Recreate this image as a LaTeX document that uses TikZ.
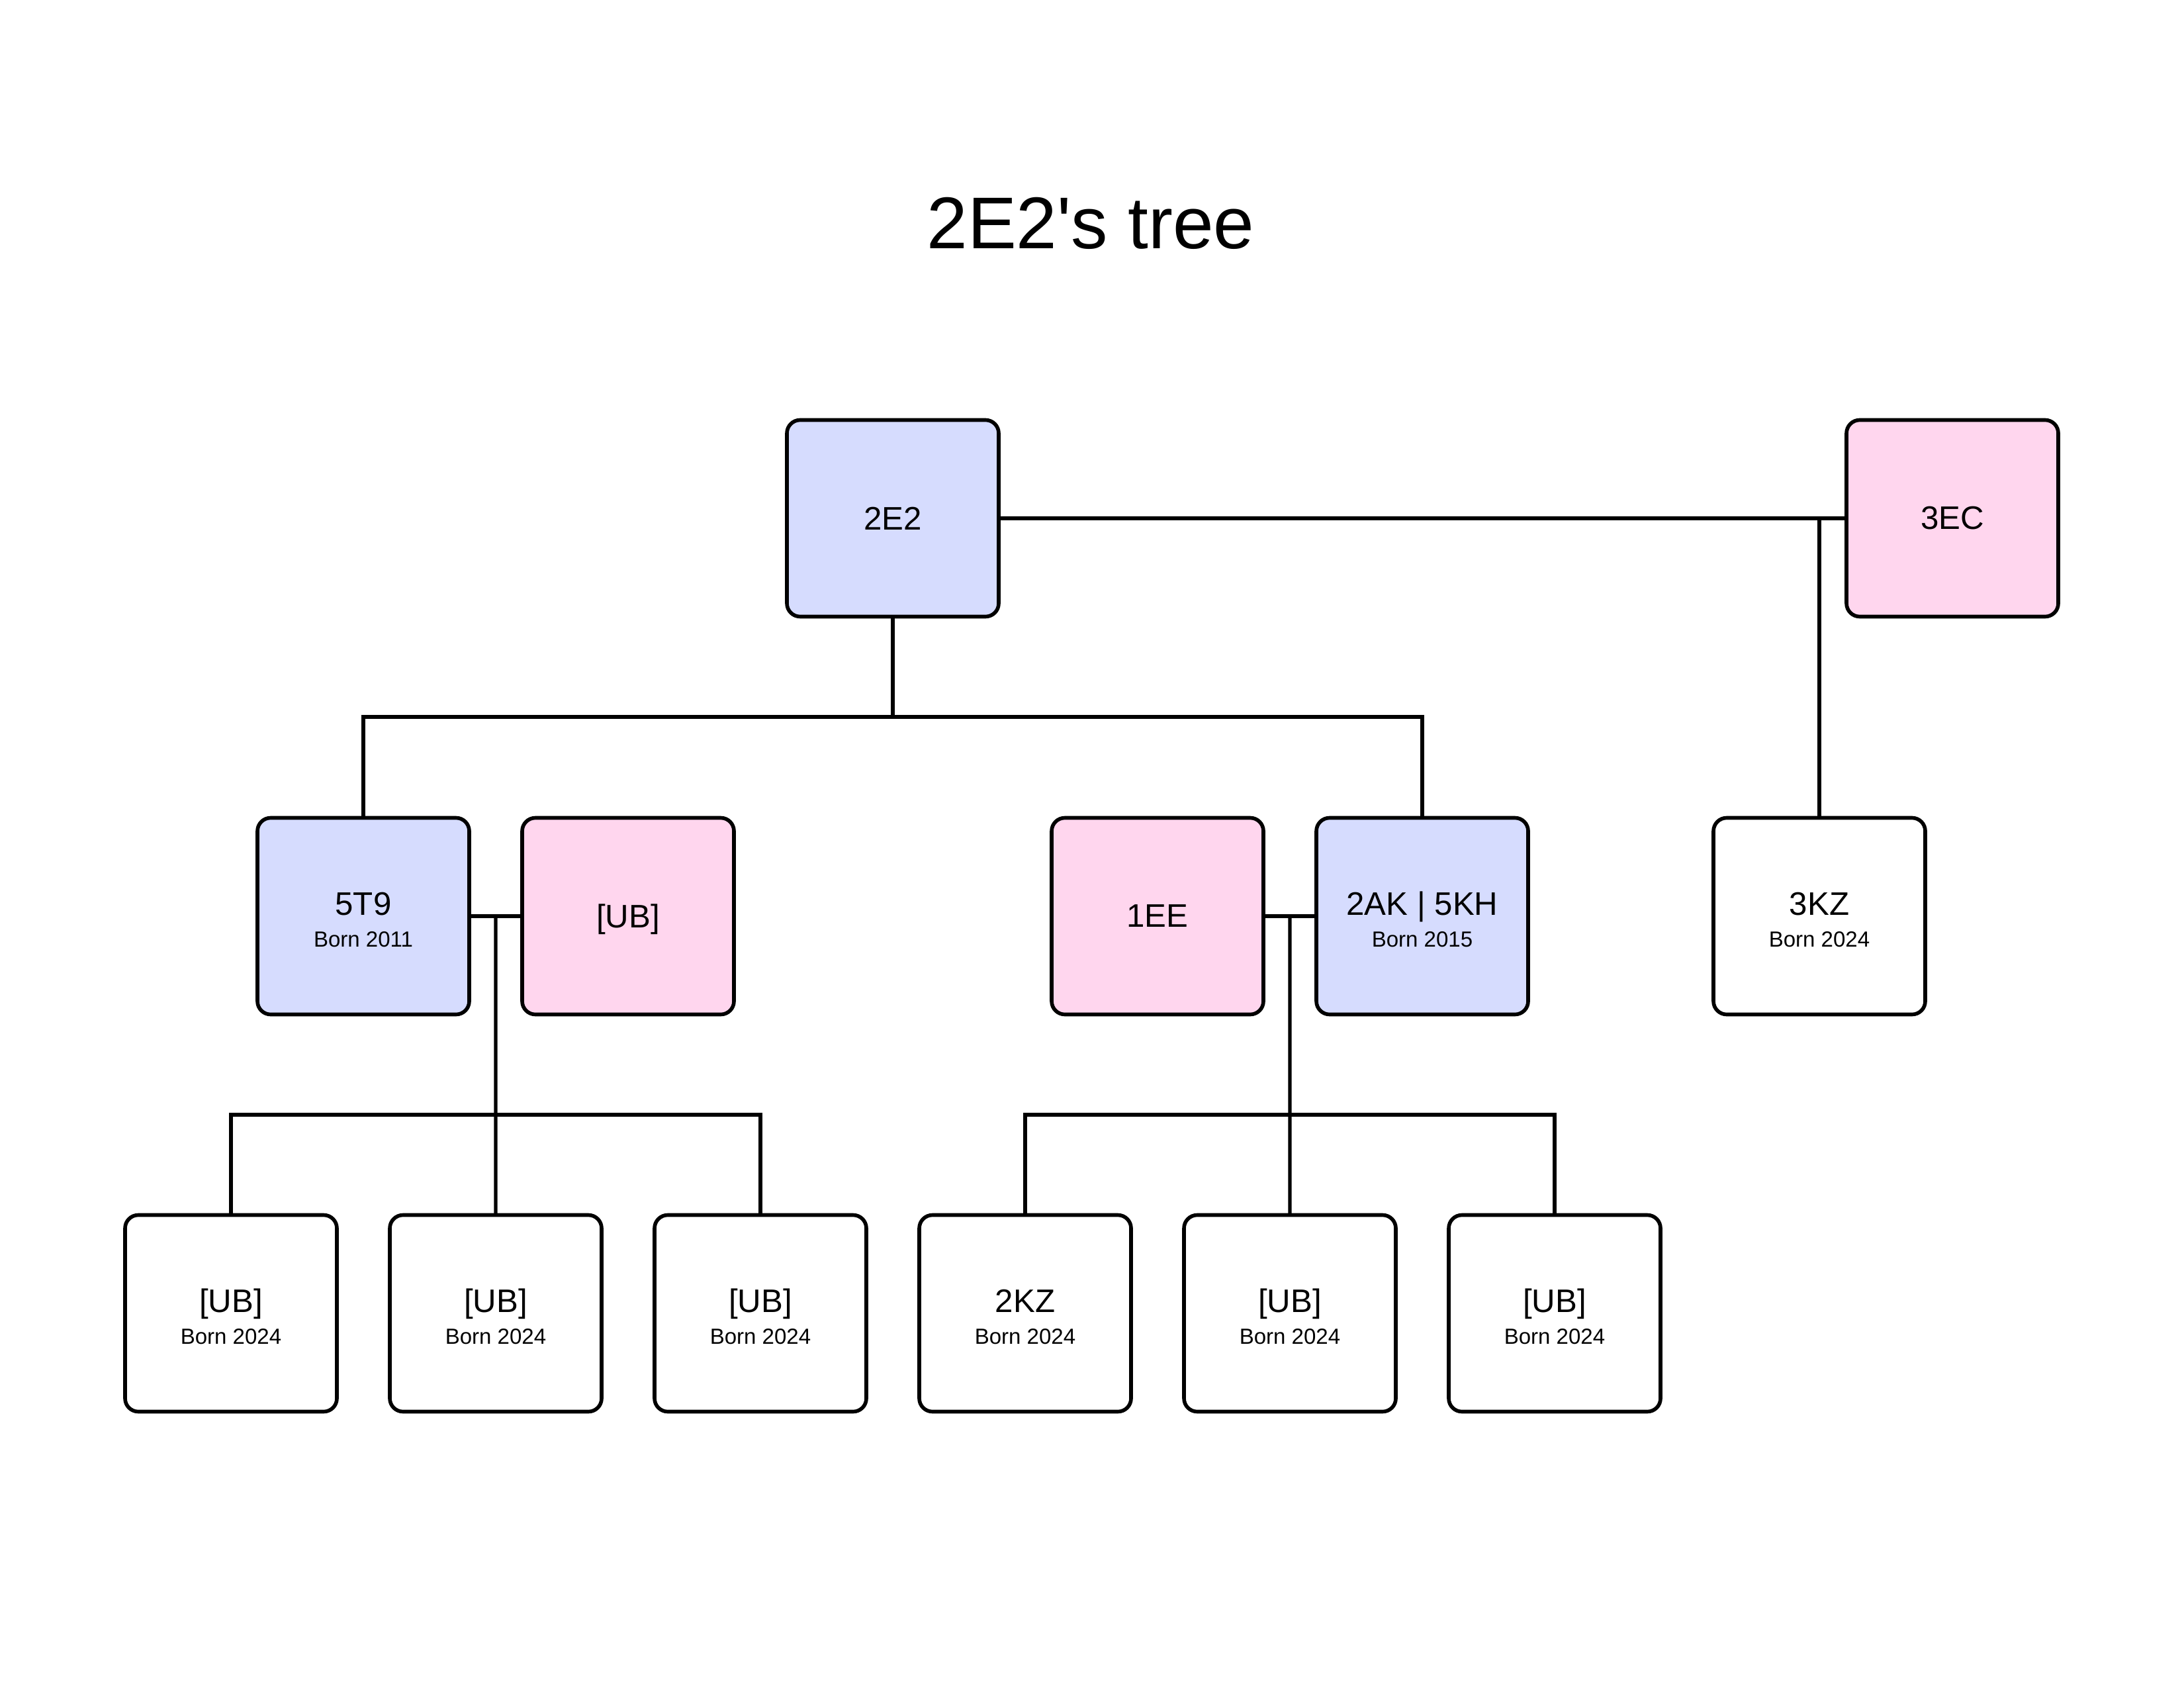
\documentclass[tikz,border=0pt]{standalone}
\usepackage{fontspec}
\setmainfont{Liberation Sans}
\usepackage{tikz}
\usetikzlibrary{positioning}
\definecolor{maleblue}{HTML}{D6DCFE}
\definecolor{femalepink}{HTML}{FFD6EE}
\newcommand{\bornyear}[1]{\rule{0pt}{12.8pt}\\[-1.5pt]{\fontsize{9.4}{10}\selectfont Born #1}}

\begin{document}
\begin{tikzpicture}[
  node distance=0.8cm,
  person/.style={rectangle,rounded corners=0.2cm,draw=black,line width=1.6pt,fill=white,minimum width=3.2cm,minimum height=2.97cm,inner sep=0pt,outer sep=0pt,align=center,font=\fontsize{14}{15}\selectfont},
  male/.style={person,fill=maleblue},
  female/.style={person,fill=femalepink},
  link/.style={line width=1.5pt,draw=black}
]
\useasboundingbox (0,0) rectangle (33,-25.5);
\node[font=\fontsize{31.5}{38}\selectfont] (title) at (16.48,-3.37) {2E2\textquotesingle s tree};
% first generation
\node[male] (p2e2) at (13.49,-7.83) {2E2};
\node[female] (p3ec) at (29.50,-7.83) {3EC};
% second generation
\node[male] (p5t9) at (5.49,-13.84) {5T9\bornyear{2011}};
\node[female,right=of p5t9,text depth=0pt] (pub1) {[UB]};
\node[female] (p1ee) at (17.49,-13.84) {1EE};
\node[male,right=of p1ee] (p2ak) {2AK | 5KH\bornyear{2015}};
\node[person] (p3kz) at (27.49,-13.84) {3KZ\bornyear{2024}};
% third generation
\node[person] (pub2) at (3.49,-19.84) {[UB]\bornyear{2024}};
\node[person,right=of pub2] (pub3) {[UB]\bornyear{2024}};
\node[person,right=of pub3] (pub4) {[UB]\bornyear{2024}};
\node[person,right=of pub4] (p2kz) {2KZ\bornyear{2024}};
\node[person,right=of p2kz] (pub5) {[UB]\bornyear{2024}};
\node[person,right=of pub5] (pub6) {[UB]\bornyear{2024}};
% junctions
\coordinate (cpl1) at (p2e2.east -| p3kz);
\coordinate (fam1) at (13.49,-10.83);
\coordinate (cpl2) at (7.49,-13.84);
\coordinate (fam2) at (7.49,-16.84);
\coordinate (cpl3) at (19.49,-13.84);
\coordinate (fam3) at (19.49,-16.84);
% links
\draw[link] (p2e2) -- (p3ec);
\draw[link] (cpl1) -- (p3kz.north);
\draw[link] (p2e2.south) -- (fam1);
\draw[link] (p5t9.north) |- (fam1) -| (p2ak.north);
\draw[link] (p5t9) -- (pub1);
\draw[link] (cpl2) -- (pub3.north);
\draw[link] (pub2.north) |- (fam2) -| (pub4.north);
\draw[link] (p1ee) -- (p2ak);
\draw[link] (cpl3) -- (pub5.north);
\draw[link] (p2kz.north) |- (fam3) -| (pub6.north);
\end{tikzpicture}
\end{document}
